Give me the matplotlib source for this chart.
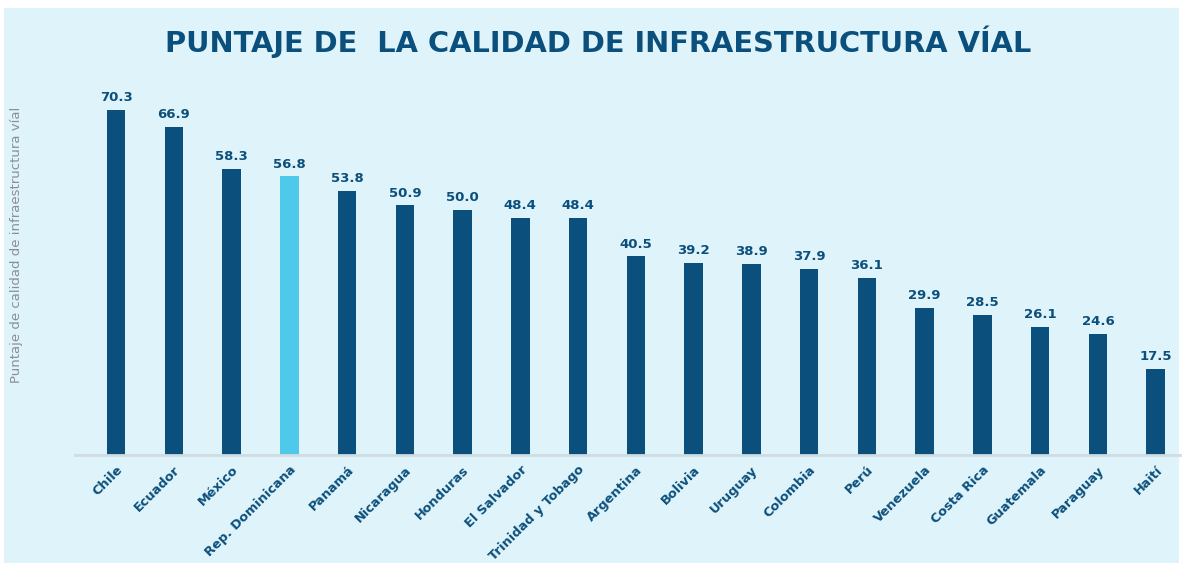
import matplotlib.pyplot as plt
from matplotlib.patches import Rectangle

paises = ['Chile', 'Ecuador', 'México', 'Rep. Dominicana', 'Panamá', 'Nicaragua',
          'Honduras', 'El Salvador', 'Trinidad y Tobago', 'Argentina', 'Bolivia',
          'Uruguay', 'Colombia', 'Perú', 'Venezuela', 'Costa Rica', 'Guatemala',
          'Paraguay', 'Haití']
puntajes = [70.3, 66.9, 58.3, 56.8, 53.8, 50.9, 50.0, 48.4, 48.4, 40.5, 39.2,
            38.9, 37.9, 36.1, 29.9, 28.5, 26.1, 24.6, 17.5]
destacado = 'Rep. Dominicana'

azul = '#0b4f7c'
celeste = '#4fc9ea'
fondo = '#dff3fa'

plt.rcParams['font.family'] = ['DejaVu Sans']

fig = plt.figure(figsize=(11.83, 5.63), dpi=100)
fig.patch.set_facecolor('white')
fig.patches.append(Rectangle((4 / 1183, 0), 1 - 8 / 1183, 1 - 8 / 563,
                             transform=fig.transFigure, facecolor=fondo,
                             edgecolor='none', zorder=-10))

ax = fig.add_axes([75 / 1183, 1 - 455 / 563, (1180 - 75) / 1183, 0.655])
ax.set_facecolor('none')

colores = [celeste if p == destacado else azul for p in paises]
x = range(len(paises))
ax.bar(x, puntajes, width=0.32, color=colores)

for i, v in enumerate(puntajes):
    ax.text(i, v + 1.2, f'{v:.1f}', ha='center', va='bottom', fontsize=9.5,
            fontweight='bold', color=azul)

ax.set_xlim(-0.71, 18.42)
ax.set_ylim(0, 75.2)
ax.set_xticks(list(x))
ax.set_xticklabels(paises, rotation=45, ha='right', rotation_mode='anchor',
                   fontsize=9.3, fontweight='bold', color=azul)
ax.tick_params(axis='x', length=0, pad=6)
ax.set_yticks([])
for s in ['top', 'right', 'left']:
    ax.spines[s].set_visible(False)
ax.spines['bottom'].set_color('#cfdde3')
ax.spines['bottom'].set_linewidth(2)

# titulo centrado sobre el area del grafico
fig.text(598 / 1183, 1 - 42 / 563, 'PUNTAJE DE  LA CALIDAD DE INFRAESTRUCTURA VÍAL',
         ha='center', va='center', fontsize=20.8, fontweight='bold', color=azul)
fig.text(17 / 1183, 1 - 245 / 563, 'Puntaje de calidad de infraestructura víal',
         rotation=90, ha='center', va='center', fontsize=9.5, color='#8a8f93')

fig.savefig('out.png', dpi=100, facecolor=fig.get_facecolor())
